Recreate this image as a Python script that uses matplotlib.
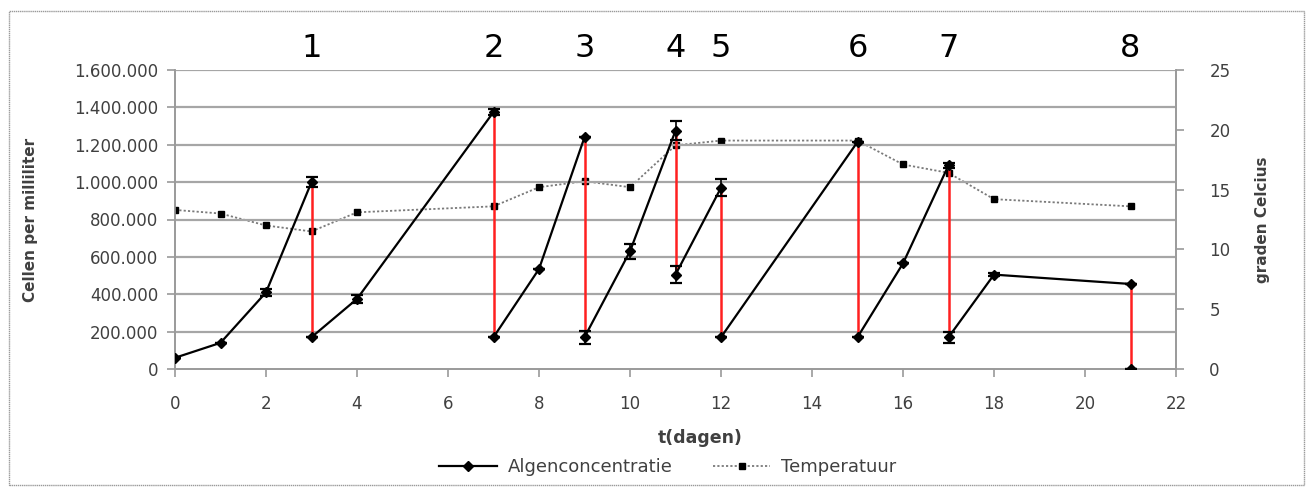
import matplotlib
matplotlib.use("Agg")
import matplotlib.pyplot as plt
from matplotlib.patches import Rectangle
from matplotlib.lines import Line2D
from matplotlib.ticker import FuncFormatter

plt.rcParams['font.family'] = ['DejaVu Sans']

# Algae concentration (cells per ml); pairs with equal day = dilution step
days_alg = [0, 1, 2, 3, 3, 4, 7, 7, 8, 9, 9, 10, 11, 11, 12, 12, 15, 15, 16, 17, 17, 18, 21, 21]
alg = [60000, 140000, 410000, 1000000, 170000, 375000, 1375000, 170000, 535000, 1240000,
       170000, 630000, 1275000, 505000, 970000, 170000, 1215000, 170000, 565000, 1090000,
       170000, 505000, 455000, 0]
alg_err = [0, 0, 20000, 25000, 0, 20000, 15000, 0, 0, 0,
           35000, 40000, 50000, 45000, 45000, 0, 0, 0, 0, 12000,
           30000, 10000, 0, 0]

# Temperature (degrees Celsius)
days_temp = [0, 1, 2, 3, 4, 7, 8, 9, 10, 11, 12, 15, 16, 17, 18, 21]
temp = [13.3, 13.0, 12.0, 11.5, 13.1, 13.6, 15.2, 15.7, 15.2, 18.7, 19.1, 19.1, 17.1, 16.4, 14.2, 13.6]

# Dilution labels
dil_days = [3, 7, 9, 11, 12, 15, 17, 21]
dil_labels = ['1', '2', '3', '4', '5', '6', '7', '8']

left_ticks = [0, 200000, 400000, 600000, 800000, 1000000, 1200000, 1400000, 1600000]
right_ticks = [0, 5, 10, 15, 20, 25]
x_ticks = [0, 2, 4, 6, 8, 10, 12, 14, 16, 18, 20, 22]

W, H = 1312, 495
fig = plt.figure(figsize=(W / 100, H / 100), dpi=100)
fig.patches.append(Rectangle((9 / W, 10 / H), (1304 - 9) / W, (484 - 10) / H,
                             transform=fig.transFigure, fill=False,
                             edgecolor='#9a9a9a', linewidth=1.0, linestyle=(0, (1, 0.5))))

ax = fig.add_axes([175 / W, 1 - 369 / H, (1176 - 175) / W, (369 - 70) / H])
ax2 = ax.twinx()

gray = '#9a9a9a'
txtc = '#404040'

ax.set_xlim(0, 22)
ax.set_ylim(0, 1600000)
ax2.set_ylim(0, 25)
ax.set_xticks(x_ticks)
ax.set_yticks(left_ticks)
ax2.set_yticks(right_ticks)
ax.yaxis.set_major_formatter(FuncFormatter(lambda v, p: f"{int(v):,}".replace(',', '.')))

for y in left_ticks[1:]:
    ax.axhline(y, color='#a6a6a6', linewidth=1.6, zorder=0)

for a in (ax, ax2):
    for s in a.spines.values():
        s.set_color(gray)
        s.set_linewidth(1.2)
    a.spines['top'].set_visible(False)
ax.tick_params(axis='both', colors=gray, labelcolor=txtc, labelsize=12, length=6, width=1.2)
ax.tick_params(axis='x', pad=13)
ax.tick_params(axis='y', pad=6)
ax2.tick_params(axis='y', colors=gray, labelcolor=txtc, labelsize=12, length=6, width=1.2, pad=18)

# Temperature series (right axis)
ax2.plot(days_temp, temp, color='#7a7a7a', linestyle=(0, (1.2, 1.2)), linewidth=1.3,
         marker='s', markersize=4, markerfacecolor='black', markeredgecolor='black', zorder=3)

# Algae series: black growth segments, red dilution drops
for i in range(len(days_alg) - 1):
    same = days_alg[i] == days_alg[i + 1]
    ax.plot(days_alg[i:i + 2], alg[i:i + 2], color='#ff2020' if same else 'black',
            linewidth=1.8 if same else 1.6, zorder=4 if not same else 3.5)
ax.errorbar(days_alg, alg, yerr=alg_err, fmt='D', color='black', markersize=5.5,
            ecolor='black', elinewidth=1.2, capsize=4, capthick=1.6, zorder=5)

ax.set_zorder(ax2.get_zorder() + 1)
ax.patch.set_visible(False)

ax.set_xlabel('t(dagen)', fontsize=12.5, fontweight='bold', color=txtc)
ax.xaxis.set_label_coords(0.525, -0.20)
ax.set_ylabel('Cellen per milliliter', fontsize=11, fontweight='bold', color=txtc, labelpad=26)
ax2.set_ylabel('graden Celcius', fontsize=11, fontweight='bold', color=txtc, labelpad=18)

for d, lab in zip(dil_days, dil_labels):
    ax.text(d, 1.02, lab, transform=ax.get_xaxis_transform(), ha='center', va='bottom',
            fontsize=23, color='black')

handles = [Line2D([], [], color='black', linewidth=1.6, marker='D', markersize=5),
           Line2D([], [], color='#7a7a7a', linestyle=(0, (1.2, 1.2)), linewidth=1.3,
                  marker='s', markersize=4, markerfacecolor='black', markeredgecolor='black')]
fig.legend(handles, ['Algenconcentratie', 'Temperatuur'], loc='center',
           bbox_to_anchor=(668 / W, 1 - 467 / H), ncol=2, frameon=False, fontsize=13,
           handlelength=3.2, handletextpad=0.6, columnspacing=2.2, labelcolor=txtc)

fig.savefig('out.png', dpi=100)
